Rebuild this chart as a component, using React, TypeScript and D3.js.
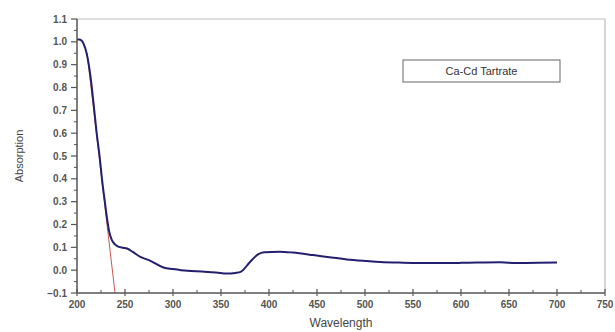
import React, { useEffect, useRef } from "react";
import * as d3 from "d3";

// spectrum readings (wavelength nm, absorption)
const wavelengths = [200, 202, 205, 207, 210, 214, 217.5, 220.5, 223.5, 226, 229, 231.5, 233.5, 236, 239, 243, 248, 252, 258, 266, 276, 290, 300, 315, 330, 345, 356, 365, 371, 380, 389, 395, 403, 411, 425, 446, 465, 481, 502, 516, 540, 571, 600, 641, 658, 680, 700];
const absorption = [1.01, 1.01, 1.005, 0.99, 0.95, 0.85, 0.72, 0.6, 0.5, 0.4, 0.3, 0.22, 0.17, 0.135, 0.115, 0.103, 0.098, 0.095, 0.08, 0.058, 0.042, 0.012, 0.005, -0.003, -0.006, -0.01, -0.015, -0.012, -0.006, 0.035, 0.07, 0.078, 0.08, 0.081, 0.077, 0.066, 0.055, 0.047, 0.04, 0.036, 0.033, 0.031, 0.032, 0.035, 0.031, 0.032, 0.034];

// tangent line (red)
const tangentX = [210.5, 239.6];
const tangentY = [0.95, -0.1];

const xTicks = [200, 250, 300, 350, 400, 450, 500, 550, 600, 650, 700, 750];
const yTicks = [-0.1, 0.0, 0.1, 0.2, 0.3, 0.4, 0.5, 0.6, 0.7, 0.8, 0.9, 1.0, 1.1];

const legendLabel = "Ca-Cd Tartrate";

export default function App() {
  const svgRef = useRef<SVGSVGElement>(null);

  useEffect(() => {
    const svg = d3.select(svgRef.current);
    svg.selectAll("*").remove();

    const width = 615;
    const height = 332;
    const margin = { top: 19, right: 10, bottom: 39, left: 77 };
    const x0 = margin.left;
    const x1 = width - margin.right;
    const y0 = height - margin.bottom;
    const y1 = margin.top;

    const x = d3.scaleLinear().domain([200, 750]).range([x0, x1]);
    const y = d3.scaleLinear().domain([-0.1, 1.1]).range([y0, y1]);

    svg.append("rect").attr("width", width).attr("height", height).attr("fill", "#fff");

    // frame top/right
    svg.append("line").attr("x1", x0).attr("x2", x1).attr("y1", y1).attr("y2", y1)
      .attr("stroke", "#bbb").attr("stroke-width", 1.2);
    svg.append("line").attr("x1", x1).attr("x2", x1).attr("y1", y1).attr("y2", y0)
      .attr("stroke", "#bbb").attr("stroke-width", 1.2);

    const data = wavelengths.map((w, i) => ({ w, a: absorption[i] }));

    // red tangent
    svg.append("line")
      .attr("x1", x(tangentX[0])).attr("y1", y(tangentY[0]))
      .attr("x2", x(tangentX[1])).attr("y2", y(tangentY[1]))
      .attr("stroke", "#cc5555").attr("stroke-width", 1);

    // curve
    const line = d3.line<{ w: number; a: number }>()
      .x((d) => x(d.w))
      .y((d) => y(d.a))
      .curve(d3.curveMonotoneX);

    svg.append("path").datum(data).attr("d", line)
      .attr("fill", "none").attr("stroke", "#22206e").attr("stroke-width", 2);

    // x axis
    const gx = svg.append("g").attr("transform", `translate(0,${y0})`);
    gx.append("line").attr("x1", x0).attr("x2", x1).attr("stroke", "#555").attr("stroke-width", 1.5);
    const minorX = d3.range(225, 750, 50);
    gx.selectAll(".minor").data(minorX).enter().append("line")
      .attr("x1", (d) => x(d)).attr("x2", (d) => x(d)).attr("y1", -3).attr("y2", 0)
      .attr("stroke", "#555");
    gx.selectAll(".major").data(xTicks).enter().append("line")
      .attr("x1", (d) => x(d)).attr("x2", (d) => x(d)).attr("y1", -4).attr("y2", 3)
      .attr("stroke", "#555").attr("stroke-width", 1.2);
    gx.selectAll("text").data(xTicks).enter().append("text")
      .attr("x", (d) => x(d)).attr("y", 15)
      .attr("text-anchor", "middle")
      .attr("font-family", "Arial, Liberation Sans, sans-serif")
      .attr("font-size", 10).attr("font-weight", "bold").attr("fill", "#555")
      .text((d) => d3.format("d")(d));

    // y axis
    const gy = svg.append("g").attr("transform", `translate(${x0},0)`);
    gy.append("line").attr("y1", y0).attr("y2", y1).attr("stroke", "#555").attr("stroke-width", 1.5);
    const minorY = d3.range(-0.05, 1.1, 0.1);
    gy.selectAll(".minor").data(minorY).enter().append("line")
      .attr("y1", (d) => y(d)).attr("y2", (d) => y(d)).attr("x1", -3).attr("x2", 0)
      .attr("stroke", "#555");
    gy.selectAll(".major").data(yTicks).enter().append("line")
      .attr("y1", (d) => y(d)).attr("y2", (d) => y(d)).attr("x1", -6).attr("x2", 0)
      .attr("stroke", "#555").attr("stroke-width", 1.2);
    gy.selectAll("text").data(yTicks).enter().append("text")
      .attr("x", -10).attr("y", (d) => y(d) + 3.5)
      .attr("text-anchor", "end")
      .attr("font-family", "Arial, Liberation Sans, sans-serif")
      .attr("font-size", 10).attr("font-weight", "bold").attr("fill", "#555")
      .text((d) => d3.format(".1f")(d));

    // axis labels
    svg.append("text")
      .attr("x", (x0 + x1) / 2).attr("y", 327)
      .attr("text-anchor", "middle")
      .attr("font-family", "Arial, Liberation Sans, sans-serif")
      .attr("font-size", 12).attr("fill", "#444")
      .text("Wavelength");
    svg.append("text")
      .attr("transform", `translate(23,${(y0 + y1) / 2}) rotate(-90)`)
      .attr("text-anchor", "middle")
      .attr("font-family", "Arial, Liberation Sans, sans-serif")
      .attr("font-size", 11).attr("fill", "#444")
      .text("Absorption");

    // legend box
    const lg = svg.append("g").attr("transform", "translate(403,60)");
    lg.append("rect").attr("width", 157).attr("height", 22)
      .attr("fill", "#fff").attr("stroke", "#666").attr("stroke-width", 1);
    lg.append("text").attr("x", 78.5).attr("y", 15)
      .attr("text-anchor", "middle")
      .attr("font-family", "Arial, Liberation Sans, sans-serif")
      .attr("font-size", 11).attr("fill", "#333")
      .text(legendLabel);
  }, []);

  return (
    <svg
      ref={svgRef}
      width={615}
      height={332}
      style={{ position: "absolute", left: 0, top: 0 }}
    />
  );
}
